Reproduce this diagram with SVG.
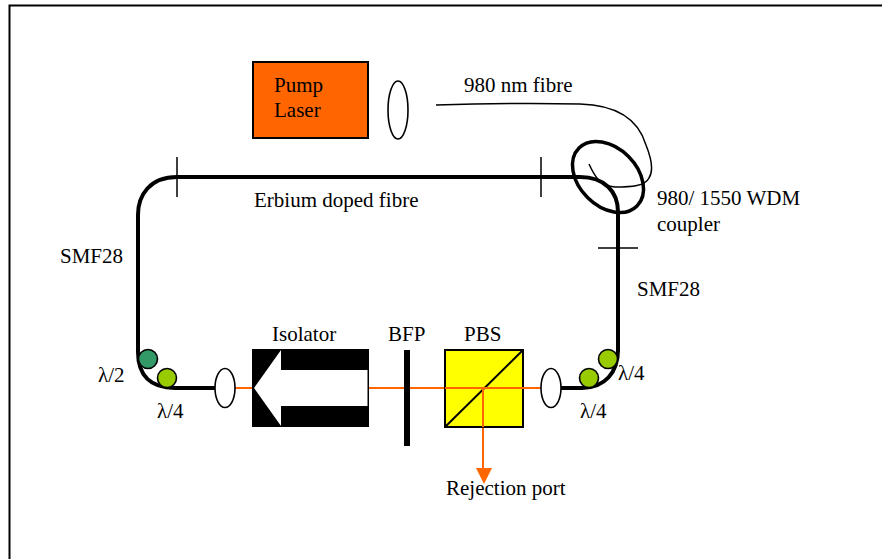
<svg xmlns="http://www.w3.org/2000/svg" width="882" height="559" viewBox="0 0 882 559">
<style>
text{font-family:"Liberation Serif","Times New Roman",serif;font-size:21px;fill:#000}
.f{fill:none;stroke:#000;stroke-width:4}
.t{fill:none;stroke:#000;stroke-width:1.500}
.o{fill:none;stroke:#ff6600;stroke-width:2}
.l{fill:#fff;stroke:#000;stroke-width:1.600}
</style>
<rect width="882" height="559" fill="#fff"/>
<path d="M9.500 559V5.500H882" fill="none" stroke="#000" stroke-width="2"/>
<g id="connectors">
<path class="f" d="M580 177H177C150 177 138 195 138 215V352C138 375 150 388 175 388H217"/>
<path class="f" d="M559 388H582C605 388 618 372 618 350V212C618 192 605 177 580 177"/>
<path class="t" d="M177 157V197M541 157V197M598 248H638"/>
<path class="t" d="M436 105C470 104 530 103 580 104C615 105 638 118 646 145C652 160 653 172 649 178C645 186 632 187 615 187C600 186 595 177 589 164"/>
<path class="o" d="M234 388H255M367 388H542"/>
<path class="o" d="M483 388V469"/>
<path d="M476 468H492L484 484Z" fill="#ff6600"/>
</g>
<g id="pump-laser"><rect x="253" y="62" width="115" height="76" fill="#ff6600" stroke="#000" stroke-width="2"/><text x="274" y="92">Pump</text><text x="274" y="117">Laser</text></g>
<g id="pump-lens"><ellipse cx="398" cy="110" rx="10" ry="29" class="l"/></g>
<g id="wdm-coupler"><ellipse cx="608" cy="177" rx="29" ry="41" transform="rotate(-45 608 177)" fill="none" stroke="#000" stroke-width="3.500"/><text x="657" y="205">980/ 1550 WDM</text><text x="657" y="231">coupler</text></g>
<g id="labels"><text x="464" y="92">980 nm fibre</text><text x="254" y="207">Erbium doped fibre</text><text x="60" y="263">SMF28</text><text x="637" y="296">SMF28</text></g>
<g id="pc-left"><circle cx="148" cy="359" r="9.500" fill="#339966" stroke="#000" stroke-width="1.600"/><circle cx="167" cy="378" r="9.500" fill="#99cc00" stroke="#000" stroke-width="1.600"/><text x="98" y="382">λ/2</text><text x="157" y="418">λ/4</text></g>
<g id="lens-left"><ellipse cx="225" cy="388" rx="10" ry="19.500" class="l"/></g>
<g id="isolator"><rect x="252" y="349" width="117" height="78" fill="#000"/><path d="M254 388L281 350V370H367.500V406H281V426Z" fill="#fff"/><text x="272" y="341">Isolator</text></g>
<g id="bfp"><rect x="404" y="350" width="6" height="96" fill="#000"/><text x="388" y="341">BFP</text></g>
<g id="pbs"><rect x="445" y="350" width="78" height="77" fill="#ffff00" stroke="#000" stroke-width="2"/><path d="M445 427L523 350" stroke="#000" stroke-width="2"/><path class="o" d="M445 388H542M483 388V427"/><text x="464" y="341">PBS</text><text x="446" y="495">Rejection port</text></g>
<g id="lens-right"><ellipse cx="551" cy="388" rx="10" ry="19.500" class="l"/></g>
<g id="pc-right"><circle cx="589" cy="378" r="9.500" fill="#99cc00" stroke="#000" stroke-width="1.600"/><circle cx="608" cy="359" r="9.500" fill="#99cc00" stroke="#000" stroke-width="1.600"/><text x="618" y="380">λ/4</text><text x="580" y="418">λ/4</text></g>
</svg>
